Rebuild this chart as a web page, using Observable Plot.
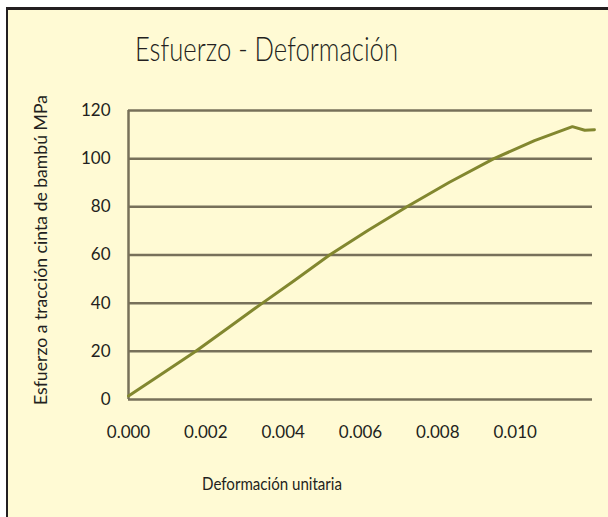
<!DOCTYPE html>
<html>
<head>
<meta charset="utf-8">
<script src="https://cdn.jsdelivr.net/npm/d3@7"></script>
<script src="https://cdn.jsdelivr.net/npm/@observablehq/plot@0.6"></script>
<style>
  html, body { margin: 0; padding: 0; background: #ffffff; }
  #chart { position: relative; width: 608px; height: 517px; overflow: hidden; font-family: Lato, "Open Sans", sans-serif; color: #231f20; }
  #frame { position: absolute; left: 6px; top: 7px; right: 0; bottom: 0; background: #fffad4; border-left: 2px solid #231f20; border-top: 3px solid #231f20; }
  #plot { position: absolute; left: 0; top: 0; }
  .lbl { position: absolute; white-space: nowrap; transform-origin: 0 0; }
</style>
</head>
<body>
<div id="chart">
  <div id="frame"></div>
  <div id="plot"></div>
  <div id="title" class="lbl" style="font-size:34px;font-weight:300;">Esfuerzo - Deformación</div>
  <div id="xlabel" class="lbl" style="font-size:18px;">Deformación unitaria</div>
  <div id="ylabel" class="lbl" style="font-size:17px;">Esfuerzo a tracción cinta de bambú MPa</div>
</div>
<script>
// Data
const strain = [0, 0.0008, 0.00174, 0.0026, 0.0034, 0.0043, 0.0052, 0.0062, 0.0072, 0.0083, 0.00945, 0.0105, 0.01148, 0.0118, 0.01205];
const stress = [1.5, 10, 20, 30, 39.3, 49.5, 60, 70.3, 80, 90.2, 100, 107.5, 113.3, 111.8, 112];
const xTicks = [0, 0.002, 0.004, 0.006, 0.008, 0.010];
const yTicks = [0, 20, 40, 60, 80, 100, 120];

const data = strain.map((s, i) => ({strain: s, stress: stress[i]}));

const plot = Plot.plot({
  width: 608,
  height: 517,
  marginLeft: 128,
  marginRight: 16,
  marginTop: 110,
  marginBottom: 118,
  style: {background: "transparent", fontFamily: "Lato, 'Open Sans', sans-serif", fontSize: "17px", color: "#231f20"},
  x: {domain: [0, 0.012], ticks: xTicks, tickFormat: d3.format(".3f"), tickSize: 0, tickPadding: 26, label: null},
  y: {domain: [0, 120], ticks: yTicks, tickSize: 0, tickPadding: 18, label: null},
  marks: [
    Plot.ruleY(yTicks, {stroke: "#77705a", strokeWidth: 2.5}),
    Plot.ruleX([0], {y1: 0, y2: 120, stroke: "#77705a", strokeWidth: 2.5}),
    Plot.line(data, {x: "strain", y: "stress", stroke: "#82872f", strokeWidth: 3, strokeLinejoin: "round"})
  ]
});
document.getElementById("plot").appendChild(plot);

// Place and size the text labels like the reference
function place(id, cx, cy, targetW, rotate) {
  const el = document.getElementById(id);
  const r = el.getBoundingClientRect();
  const w = r.width, h = r.height;
  const s = targetW / w;
  if (rotate) {
    el.style.left = (cx - h / 2) + "px";
    el.style.top = (cy + w * s / 2) + "px";
    el.style.transform = `rotate(-90deg) scaleX(${s})`;
  } else {
    el.style.left = (cx - w * s / 2) + "px";
    el.style.top = (cy - h / 2) + "px";
    el.style.transform = `scaleX(${s})`;
  }
}
place("title", 266.5, 47, 263, false);
place("xlabel", 272, 483, 140, false);
place("ylabel", 40, 250, 310, true);
</script>
</body>
</html>
